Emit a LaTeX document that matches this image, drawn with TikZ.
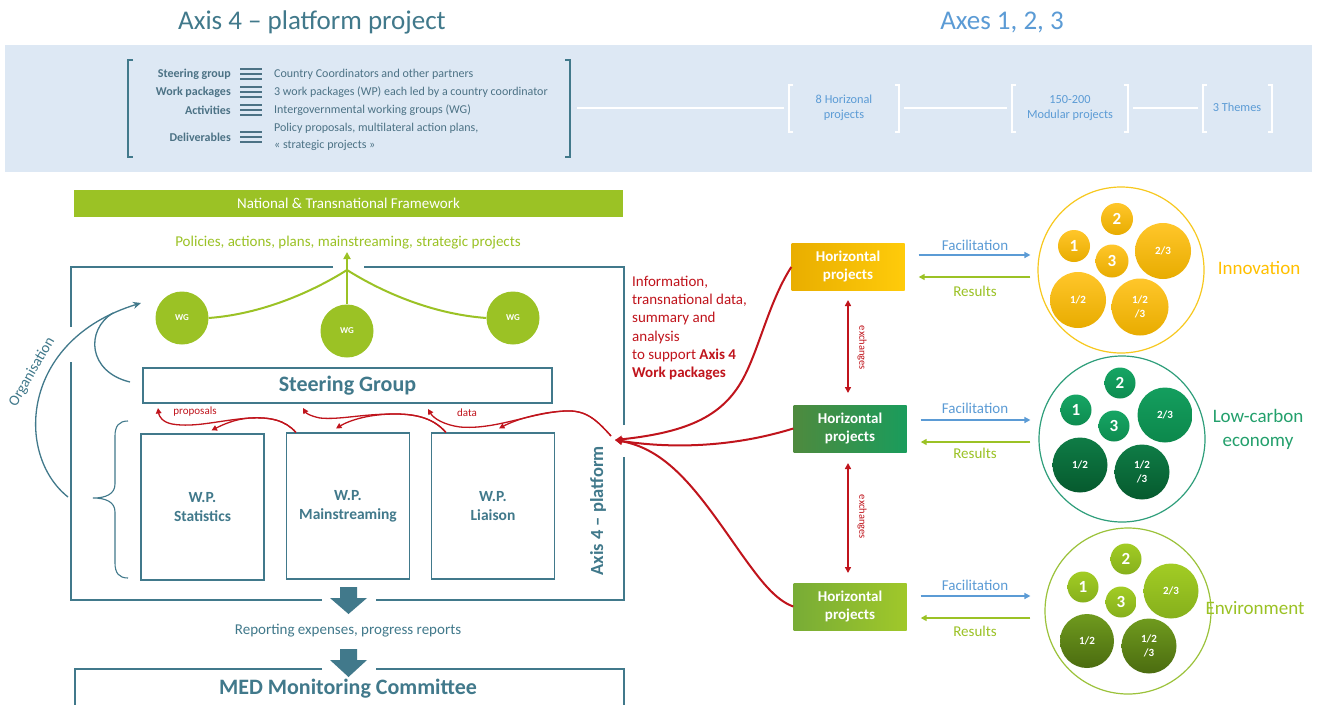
\documentclass[tikz,border=0pt]{standalone}
\usepackage{fontspec}
\setmainfont{Carlito}
\usetikzlibrary{arrows.meta,calc}
\definecolor{teal4}{HTML}{41798B}
\definecolor{hdr}{HTML}{4C7285}
\definecolor{ltblue}{HTML}{5B9BD5}
\definecolor{band}{HTML}{DDE8F4}
\definecolor{lime}{HTML}{9BC225}
\definecolor{redx}{HTML}{C0141C}
\definecolor{inno}{HTML}{FFC000}
\definecolor{innoline}{HTML}{F7C81E}
\definecolor{lowc}{HTML}{23A06C}
\definecolor{lowline}{HTML}{2E9E7A}
\definecolor{envline}{HTML}{9BC23A}
\definecolor{innoT}{HTML}{FFC62A}
\definecolor{innoB}{HTML}{E8AC00}
\definecolor{lowT}{HTML}{16A564}
\definecolor{lowB}{HTML}{0E8C50}
\definecolor{lowMT}{HTML}{149E5E}
\definecolor{lowMB}{HTML}{0C884C}
\definecolor{lowDT}{HTML}{0F7C46}
\definecolor{lowDB}{HTML}{065A2E}
\definecolor{envT}{HTML}{A2CC24}
\definecolor{envB}{HTML}{86B01C}
\definecolor{envDT}{HTML}{6F9A1E}
\definecolor{envDB}{HTML}{4B6C10}
\definecolor{hpAL}{HTML}{E9AE00}
\definecolor{hpAR}{HTML}{FFCB0A}
\definecolor{hpBL}{HTML}{4E8A3E}
\definecolor{hpBR}{HTML}{1A9C5C}
\definecolor{hpCL}{HTML}{78AC36}
\definecolor{hpCR}{HTML}{A0C82A}
\newcommand\fsz[2]{\fontsize{#1}{#2}\selectfont}
\tikzset{
  hdrlbl/.style={anchor=east, font=\fsz{12}{14}\bfseries, text=hdr, inner sep=0pt},
  hdrtxt/.style={anchor=west, font=\fsz{12}{14}, text=hdr, inner sep=0pt},
  bracklbl/.style={font=\fsz{12.3}{14.5}, text=ltblue, align=center, inner sep=0pt},
  brk/.style={white, line width=1.3pt},
  wg/.style={circle, fill=lime, minimum size=53pt, inner sep=0pt, text=white, font=\fsz{9}{10}\bfseries},
  wpbox/.style={draw=teal4, line width=1.1pt, minimum width=123pt, minimum height=146pt, align=center, text=teal4, font=\fsz{15.5}{19}\bfseries, inner sep=0pt},
  hp/.style={minimum width=113pt, minimum height=47pt, align=center, text=white, font=\fsz{15}{18}\bfseries, inner sep=0pt},
  bigc/.style={circle, draw, line width=1.2pt, minimum size=166pt, inner sep=0pt},
  nb/.style={circle, inner sep=0pt, text=white, font=\fsz{17}{18}\bfseries},
  fr/.style={circle, inner sep=0pt, text=white, align=center, font=\fsz{11}{13.5}\bfseries},
  redsmall/.style={redx, line width=1.3pt, -{Triangle[length=5.5pt,width=5.5pt]}},
  redbig/.style={redx, line width=2pt, -{Triangle[length=7pt,width=7pt]}},
  facil/.style={ltblue, line width=2pt, -{Triangle[length=6pt,width=6pt]}},
  resl/.style={lime, line width=2pt, -{Triangle[length=6pt,width=6pt]}},
  blockarrow/.style={fill=teal4},
}
\begin{document}
\begin{tikzpicture}[x=1pt,y=-1pt]
\useasboundingbox (0,0) rectangle (1322,704);
\clip (0,0) rectangle (1322,704);
\fill[white] (0,0) rectangle (1322,704);

% titles
\node[font=\fsz{27}{30}, text=teal4] (t1) at (312,22) {Axis 4 – platform project};
\node[font=\fsz{27}{30}, text=ltblue] (t2) at (1002,22) {Axes 1, 2, 3};

% header band
\fill[band] (5,45) rectangle (1312,172);
\draw[teal4, line width=1.3pt] (133,60) -- (128,60) -- (128,157) -- (133,157);
\draw[teal4, line width=1.3pt] (565,60) -- (570,60) -- (570,157) -- (565,157);
\node[hdrlbl] (l1) at (231,74) {Steering group};
\node[hdrlbl] (l2) at (231,92) {Work packages};
\node[hdrlbl] (l3) at (231,110) {Activities};
\node[hdrlbl] (l4) at (231,137) {Deliverables};
\foreach \yy in {74,92,110,137}{
  \foreach \dd in {-5,0,5}{
    \fill[hdr] (240,\yy+\dd-1.4) rectangle (262,\yy+\dd+1.4);
  }
}
\node[hdrtxt] (d1) at (274,74) {Country Coordinators and other partners};
\node[hdrtxt] (d2) at (274,92) {3 work packages (WP) each led by a country coordinator};
\node[hdrtxt] (d3) at (274,110) {Intergovernmental working groups (WG)};
\node[hdrtxt] (d4) at (274,128) {Policy proposals, multilateral action plans,};
\node[hdrtxt] (d5) at (274,145) {« strategic projects »};

% right header chain
\node[bracklbl] (b1) at (844,108) {8 Horizonal\\projects};
\node[bracklbl] (b2) at (1070,108) {150-200\\Modular projects};
\node[bracklbl] (b3) at (1237,107) {3 Themes};
\draw[brk] (793,85) -- (789,85) -- (789,132) -- (793,132);
\draw[brk] (895,85) -- (899,85) -- (899,132) -- (895,132);
\draw[brk] (1016,85) -- (1012,85) -- (1012,132) -- (1016,132);
\draw[brk] (1124,85) -- (1128,85) -- (1128,132) -- (1124,132);
\draw[brk] (1207,85) -- (1203,85) -- (1203,132) -- (1207,132);
\draw[brk] (1268,85) -- (1272,85) -- (1272,132) -- (1268,132);
\draw[white, line width=1.3pt] (577,108) -- (784,108);
\draw[white, line width=1.3pt] (904,108) -- (1007,108);
\draw[white, line width=1.3pt] (1133,108) -- (1198,108);

% framework bar
\fill[lime] (74,190) rectangle (623,217);
\node[font=\fsz{15}{17}, text=white] (fw) at (348.5,203.5) {National \& Transnational Framework};
\node[font=\fsz{15}{17}, text=lime] (pol) at (348,243) {Policies, actions, plans, mainstreaming, strategic projects};

% outer box with gaps
\draw[teal4, line width=2.5pt] (333,267) -- (71,267) -- (71,327);
\draw[teal4, line width=2.5pt] (71,362) -- (71,600) -- (322,600);
\draw[teal4, line width=2.5pt] (376,600) -- (624,600) -- (624,457);
\draw[teal4, line width=2.5pt] (624,425) -- (624,267) -- (364,267);

% WG
\node[wg] (wg1) at (182,318) {WG};
\node[wg] (wg2) at (347,331) {WG};
\node[wg] (wg3) at (513,318) {WG};
\coordinate (jn) at (347,270);
\coordinate (poltip) at (347,252);
\draw[lime, line width=2pt] (wg1.east) .. controls (262,314) and (312,292) .. (jn);
\draw[lime, line width=2pt] (wg3.west) .. controls (432,314) and (382,292) .. (jn);
\draw[lime, line width=2pt] (wg2.north) -- (jn);
\draw[lime, line width=2pt, -{Triangle[length=7pt,width=7pt]}] (jn) -- (poltip);

% steering group
\node[draw=teal4, line width=1.1pt, minimum width=409pt, minimum height=35pt, inner sep=0pt, font=\fsz{22}{24}\bfseries, text=teal4] (sg) at (347.5,385.5) {Steering Group};

% work packages
\node[wpbox] (wp1) at (202.5,507) {W.P.\\Statistics};
\node[wpbox] (wp2) at (348,506) {W.P.\\Mainstreaming};
\node[wpbox] (wp3) at (493,506) {W.P.\\Liaison};

% brace
\draw[teal4, line width=1.1pt] (128,421) .. controls (119,421) and (115,426) .. (115,436) -- (115,484)
  .. controls (115,494) and (106,498) .. (93,498)
  .. controls (106,498) and (115,502) .. (115,512) -- (115,563)
  .. controls (115,573) and (119,578) .. (128,578);

% organisation arcs
\coordinate (orgtip) at (141,303);
\draw[teal4, line width=1.3pt, -{Stealth[length=8pt,width=7pt]}] (68,497) .. controls (15,455) and (20,340) .. (orgtip);
\draw[teal4, line width=1.3pt] (130,382) .. controls (88,372) and (85,330) .. (113,313);
\node[rotate=60, font=\fsz{15}{17}, text=teal4] (org) at (32,372) {Organisation};

% axis 4 platform vertical label
\node[rotate=90, font=\fsz{18.5}{20}\bfseries, text=teal4] (ax) at (598,511) {Axis 4 – platform};

% red small flows
\coordinate (entry) at (615,440);
\coordinate (s3) at (611,436);
\coordinate (sgA) at (158,408);
\coordinate (sgB) at (303,408);
\coordinate (sgC) at (428,409);
\draw[redsmall] (s3) .. controls (595,418) and (585,410) .. (565,411) .. controls (530,413) and (495,430) .. (460,427) .. controls (445,425) and (434,419) .. (sgC);
\draw[redsmall] (s3) .. controls (595,418) and (585,410) .. (565,411) .. controls (540,412) and (515,420) .. ($(wp3.north)+(6,-4)$);
\draw[redsmall] ($(wp3.north west)+(15,0)$) .. controls (435,420) and (420,414) .. (395,414) .. controls (360,414) and (340,420) .. (320,418) .. controls (310,416) and (306,413) .. (sgB);
\draw[redsmall] ($(wp3.north west)+(15,0)$) .. controls (435,420) and (420,414) .. (395,414) .. controls (370,414) and (350,420) .. ($(wp2.north)+(-12,-4)$);
\draw[redsmall] ($(wp2.north west)+(10,0)$) .. controls (285,420) and (270,417) .. (250,418) .. controls (220,420) and (195,428) .. (172,424) .. controls (162,422) and (159,416) .. (sgA);
\draw[redsmall] ($(wp2.north west)+(10,0)$) .. controls (285,420) and (270,417) .. (250,418) .. controls (235,419) and (222,425) .. ($(wp1.north)+(9,-3)$);
\node[font=\fsz{11}{12}, text=redx] (prop) at (195,412) {proposals};
\node[font=\fsz{11}{12}, text=redx] (data) at (467,413) {data};

% block arrows and bottom
\fill[blockarrow] (340,587) -- (357,587) -- (357,598) -- (367,598) -- (348.5,614) -- (330,598) -- (340,598) -- cycle;
\node[font=\fsz{15}{17}, text=teal4] (rep) at (348,631) {Reporting expenses, progress reports};
\fill[blockarrow] (340,649) -- (357,649) -- (357,660) -- (367,660) -- (348.5,677) -- (330,660) -- (340,660) -- cycle;
\draw[teal4, line width=1.3pt] (322,669) -- (75,669) -- (75,712);
\draw[teal4, line width=1.3pt] (376,669) -- (624,669) -- (624,712);
\node[font=\fsz{22}{24}\bfseries, text=teal4] (med) at (348,689) {MED Monitoring Committee};

% red info text
\node[anchor=west, align=left, font=\fsz{15}{18.2}, text=redx, inner sep=0pt] (info) at (632,328) {Information,\\transnational data,\\summary and\\analysis\\to support \textbf{Axis 4}\\\textbf{Work packages}};

% horizontal projects
\node[hp, left color=hpAL, right color=hpAR] (hp1) at (848,267) {Horizontal\\projects};
\node[hp, left color=hpBL, right color=hpBR] (hp2) at (850,428.5) {Horizontal\\projects};
\node[hp, left color=hpCL, right color=hpCR] (hp3) at (850,606.5) {Horizontal\\projects};

\draw[redbig] (hp1.west) .. controls (770,300) and (760,345) .. (745,375) .. controls (725,415) and (690,432) .. (entry);
\draw[redbig] (hp2.west) .. controls (740,445) and (680,450) .. (entry);
\draw[redbig] (hp3.west) .. controls (775,600) and (760,580) .. (740,552) .. controls (700,495) and (670,450) .. (entry);

% exchanges
\coordinate (e1a) at (848,300);
\coordinate (e1b) at (848,393);
\coordinate (e2a) at (848,463);
\coordinate (e2b) at (848,573);
\draw[redx, line width=1.8pt, {Triangle[length=6pt,width=6pt]}-{Triangle[length=6pt,width=6pt]}] (e1a) -- (e1b);
\draw[redx, line width=1.8pt, {Triangle[length=6pt,width=6pt]}-{Triangle[length=6pt,width=6pt]}] (e2a) -- (e2b);
\node[rotate=-90, font=\fsz{10.5}{12}, text=redx] (ex1) at (862,348) {exchanges};
\node[rotate=-90, font=\fsz{10.5}{12}, text=redx] (ex2) at (862,517) {exchanges};

% theme circles
\node[bigc, draw=innoline] (inno) at (1121,270) {};
\node[bigc, draw=lowline] (lowc) at (1122,439) {};
\node[bigc, draw=envline] (env) at (1128,611) {};

% facilitation / results
\draw[facil] ($(hp1.east)+(14,-12)$) -- ($(inno.west)+(-7,-15)$);
\draw[resl] ($(inno.west)+(-7,7)$) -- ($(hp1.east)+(14,10)$);
\node[font=\fsz{15}{17}, text=ltblue] (f1) at (975,245) {Facilitation};
\node[font=\fsz{15}{17}, text=lime] (r1) at (975,291) {Results};
\draw[facil] ($(hp2.east)+(14,-8.5)$) -- ($(lowc.west)+(-8,-19)$);
\draw[resl] ($(lowc.west)+(-8,3)$) -- ($(hp2.east)+(14,13.5)$);
\node[font=\fsz{15}{17}, text=ltblue] (f2) at (975,408) {Facilitation};
\node[font=\fsz{15}{17}, text=lime] (r2) at (975,453) {Results};
\draw[facil] ($(hp3.east)+(14,-10.5)$) -- ($(env.west)+(-14,-15)$);
\draw[resl] ($(env.west)+(-14,7)$) -- ($(hp3.east)+(14,11.5)$);
\node[font=\fsz{15}{17}, text=ltblue] (f3) at (975,585) {Facilitation};
\node[font=\fsz{15}{17}, text=lime] (r3) at (975,631) {Results};

% innovation inner circles
\node[nb, minimum size=32pt, top color=innoT, bottom color=innoB] (i2) at (1117,219) {2};
\node[nb, minimum size=32pt, top color=innoT, bottom color=innoB] (i1) at (1074,246) {1};
\node[nb, minimum size=33pt, top color=innoT, bottom color=innoB] (i3) at (1112,261) {3};
\node[fr, minimum size=56pt, top color=innoT, bottom color=innoB] (i23) at (1163,251) {2/3};
\node[fr, minimum size=56pt, top color=innoT, bottom color=innoB] (i12) at (1078,300) {1/2};
\node[fr, minimum size=57pt, top color=innoT, bottom color=innoB] (i123) at (1140,307) {1/2\\/3};
\node[font=\fsz{19}{21}, text=inno] (tinno) at (1259,268) {Innovation};

% low-carbon inner circles
\node[nb, minimum size=31pt, top color=lowT, bottom color=lowB] (c2) at (1120,383) {2};
\node[nb, minimum size=31pt, top color=lowT, bottom color=lowB] (c1) at (1076,410) {1};
\node[nb, minimum size=31pt, top color=lowT, bottom color=lowB] (c3) at (1114,426) {3};
\node[fr, minimum size=55pt, top color=lowMT, bottom color=lowMB] (c23) at (1165,415) {2/3};
\node[fr, minimum size=55pt, top color=lowDT, bottom color=lowDB] (c12) at (1080,465) {1/2};
\node[fr, minimum size=55pt, top color=lowDT, bottom color=lowDB] (c123) at (1142,472) {1/2\\/3};
\node[font=\fsz{19}{24}, text=lowc, align=center] (tlow) at (1258,429.5) {Low-carbon\\economy};

% environment inner circles
\node[nb, minimum size=31pt, top color=envT, bottom color=envB] (n2) at (1126,559) {2};
\node[nb, minimum size=31pt, top color=envT, bottom color=envB] (n1) at (1083,587) {1};
\node[nb, minimum size=31pt, top color=envT, bottom color=envB] (n3) at (1121,602) {3};
\node[fr, minimum size=55pt, top color=envT, bottom color=envB] (n23) at (1171,591) {2/3};
\node[fr, minimum size=54pt, top color=envDT, bottom color=envDB] (n12) at (1087,641) {1/2};
\node[fr, minimum size=55pt, top color=envDT, bottom color=envDB] (n123) at (1149,646) {1/2\\/3};
\node[font=\fsz{19}{21}, text=lime] (tenv) at (1255,608) {Environment};

\end{tikzpicture}
\end{document}
